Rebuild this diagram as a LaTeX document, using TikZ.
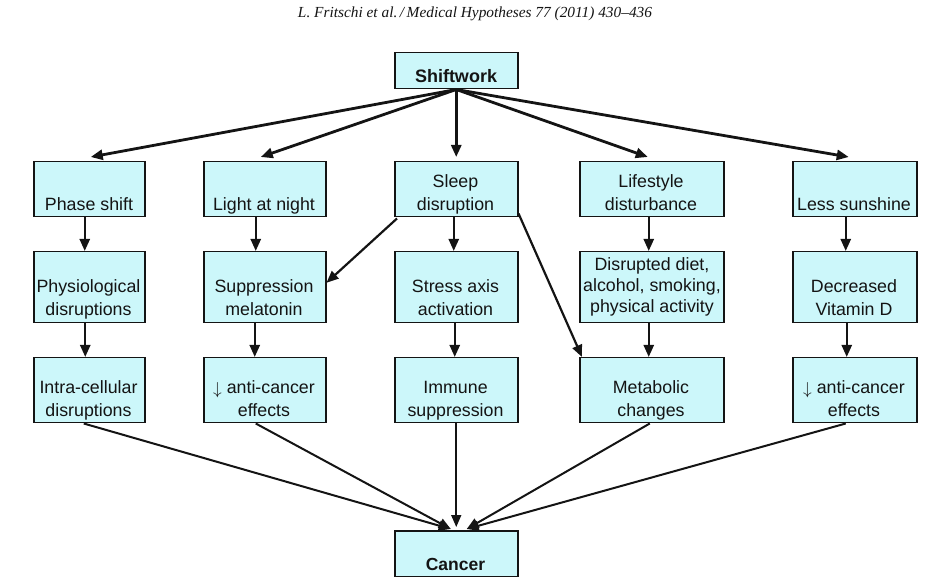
\documentclass[tikz,border=0pt]{standalone}
\usepackage{fontspec}
\usepackage{graphicx}
\setmainfont{Liberation Sans}
\newfontfamily\hdrfont{Liberation Serif}
\usetikzlibrary{arrows.meta}
\definecolor{boxfill}{RGB}{204,247,250}
\definecolor{ink}{RGB}{20,20,20}
\newcommand{\dnarr}{\raisebox{-1pt}{$\downarrow$}}
\begin{document}
\begin{tikzpicture}[x=1pt,y=-1pt,
  box/.style={draw=ink, fill=boxfill, line width=1.5pt, inner sep=0pt, anchor=north west},
  txt/.style={anchor=base, align=center, inner sep=0pt, text=ink,
    font=\fontsize{17.8}{23}\selectfont},
  btxt/.style={anchor=base, inner sep=0pt, text=ink,
    font=\fontsize{18}{22}\selectfont\bfseries},
  fan/.style={draw=ink, line width=2.8pt, -{Triangle[length=12pt,width=10pt]}},
  vert/.style={draw=ink, line width=2.4pt, -{Triangle[length=12pt,width=10pt]}},
  cross/.style={draw=ink, line width=2.2pt, -{Triangle[length=12pt,width=10pt]}},
  tocan/.style={draw=ink, line width=2pt, -{Triangle[length=12pt,width=10pt]}},
]
\useasboundingbox (0,0) rectangle (930,577);

% header
\node[anchor=base, inner sep=0pt, text=ink] (hdr) at (475,18)
  {\resizebox{354pt}{!}{\hdrfont\itshape L. Fritschi et al.\,/\,Medical Hypotheses 77 (2011) 430–436}};

% boxes
\node[box, minimum width=123pt, minimum height=36pt] (sw) at (394,52) {};
\node[box, minimum width=111pt, minimum height=55pt] (ps) at (33,161) {};
\node[box, minimum width=122pt, minimum height=55pt] (ln) at (203,161) {};
\node[box, minimum width=123pt, minimum height=55pt] (sl) at (394,161) {};
\node[box, minimum width=144pt, minimum height=55pt] (ls) at (579,161) {};
\node[box, minimum width=124pt, minimum height=55pt] (su) at (792,161) {};

\node[box, minimum width=111pt, minimum height=71pt] (ph) at (33,251) {};
\node[box, minimum width=122pt, minimum height=71pt] (sm) at (203,251) {};
\node[box, minimum width=123pt, minimum height=71pt] (sa) at (394,251) {};
\node[box, minimum width=144pt, minimum height=71pt] (dd) at (579,251) {};
\node[box, minimum width=124pt, minimum height=71pt] (vd) at (792,251) {};

\node[box, minimum width=111pt, minimum height=65pt] (ic) at (33,357) {};
\node[box, minimum width=122pt, minimum height=65pt] (ac) at (203,357) {};
\node[box, minimum width=123pt, minimum height=65pt] (im) at (394,357) {};
\node[box, minimum width=144pt, minimum height=65pt] (mc) at (579,357) {};
\node[box, minimum width=124pt, minimum height=65pt] (ad) at (792,357) {};

\node[box, minimum width=123pt, minimum height=46pt] (ca) at (394,530) {};

% texts (anchor = baseline of the last line)
\node[btxt] (tsw) at (456,83) {Shiftwork};
\node[txt] (tps) at (89,211) {Phase shift};
\node[txt] (tln) at (264,211) {Light at night};
\node[txt] (tsl) at (455.5,211) {Sleep\\disruption};
\node[txt] (tls) at (651,211) {Lifestyle\\disturbance};
\node[txt] (tsu) at (854,211) {Less sunshine};

\node[txt] (tph) at (88.5,316) {Physiological\\disruptions};
\node[txt] (tsm) at (264,316) {Suppression\\melatonin};
\node[txt] (tsa) at (455.5,316) {Stress axis\\activation};
\node[txt, font=\fontsize{17.8}{21}\selectfont] (tdd) at (652,313) {Disrupted diet,\\alcohol, smoking,\\physical activity};
\node[txt] (tvd) at (854,316) {Decreased\\Vitamin D};

\node[txt] (tic) at (88.5,417) {Intra-cellular\\disruptions};
\node[txt] (tac) at (264,417) {\dnarr{} anti-cancer\\effects};
\node[txt] (tim) at (455.5,417) {Immune\\suppression};
\node[txt] (tmc) at (651,417) {Metabolic\\changes};
\node[txt] (tad) at (854,417) {\dnarr{} anti-cancer\\effects};

\node[btxt, font=\fontsize{17.5}{22}\selectfont\bfseries] (tca) at (455.5,570) {Cancer};

% fan from Shiftwork
\draw[fan] (sw.south) -- ([xshift=1.5pt,yshift=4pt]ps.north);
\draw[fan] (sw.south) -- ([xshift=-4pt,yshift=4pt]ln.north);
\draw[fan] (sw.south) -- ([yshift=4pt]sl.north);
\draw[fan] (sw.south) -- ([xshift=-4pt,yshift=4pt]ls.north);
\draw[fan] (sw.south) -- ([xshift=-6pt,yshift=4pt]su.north);

% verticals row1 -> row2
\draw[vert] ([xshift=-4.5pt]ps.south) -- ([xshift=-4.5pt]ph.north);
\draw[vert] ([xshift=-9pt]ln.south) -- ([xshift=-9pt]sm.north);
\draw[vert] ([xshift=-2.5pt]sl.south) -- ([xshift=-2.5pt]sa.north);
\draw[vert] ([xshift=-3pt]ls.south) -- ([xshift=-3pt]dd.north);
\draw[vert] ([xshift=-9pt]su.south) -- ([xshift=-9pt]vd.north);

% verticals row2 -> row3
\draw[vert] ([xshift=-4pt]ph.south) -- ([xshift=-4pt]ic.north);
\draw[vert] ([xshift=-10pt]sm.south) -- ([xshift=-10pt]ac.north);
\draw[vert] ([xshift=-1.5pt]sa.south) -- ([xshift=-1.5pt]im.north);
\draw[vert] ([xshift=-3pt]dd.south) -- ([xshift=-3pt]mc.north);
\draw[vert] ([xshift=-8pt]vd.south) -- ([xshift=-8pt]ad.north);

% cross links from Sleep disruption
\draw[cross] ([xshift=3pt,yshift=-1pt]sl.south west) -- ([yshift=4.5pt]sm.east);
\draw[cross] ([yshift=4pt]sl.south east) -- ([xshift=3pt]mc.north west);

% to Cancer
\draw[tocan] ([xshift=-5.5pt]ic.south) -- ([xshift=-5.5pt,yshift=1pt]ca.north);
\draw[tocan] ([xshift=-9pt]ac.south) -- ([xshift=-5.5pt,yshift=1pt]ca.north);
\draw[tocan, line width=1.6pt] (im.south) -- ([yshift=3pt]ca.north);
\draw[tocan] ([xshift=-2pt]mc.south) -- ([xshift=10.5pt,yshift=1pt]ca.north);
\draw[tocan] ([xshift=-9pt]ad.south) -- ([xshift=10.5pt,yshift=1pt]ca.north);
\end{tikzpicture}
\end{document}
